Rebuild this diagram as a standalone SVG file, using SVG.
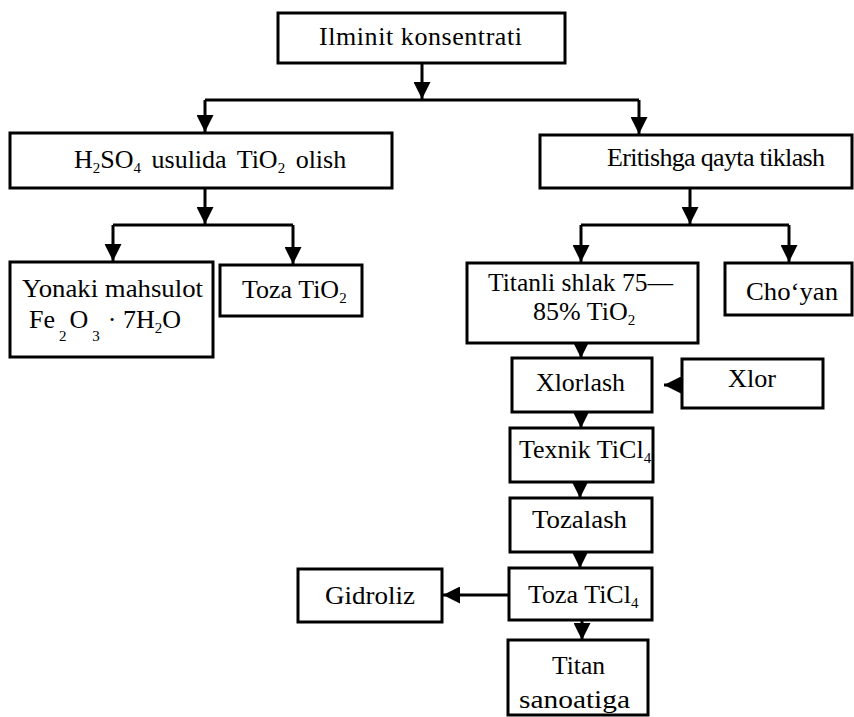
<svg xmlns="http://www.w3.org/2000/svg" width="854" height="717" viewBox="0 0 854 717">
<style>
rect.box{fill:#fff;stroke:#000;stroke-width:3}
text{font-family:"Liberation Serif","Times New Roman",serif;font-size:26px;fill:#000}
.sub{font-size:15px}
.con path{fill:none;stroke:#000;stroke-width:3}
</style>
<defs>
<marker id="ah" viewBox="0 0 16 16" refX="16" refY="8" markerWidth="17" markerHeight="17" markerUnits="userSpaceOnUse" orient="auto">
<path d="M0,0 L16,8 L0,16 z" fill="#000"/>
</marker>
</defs>
<rect width="854" height="717" fill="#fff"/>
<g class="con">
<path d="M422,63 V99" marker-end="url(#ah)"/>
<path d="M205,100 H639"/>
<path d="M205,100 V132" marker-end="url(#ah)"/>
<path d="M639,100 V134" marker-end="url(#ah)"/>
<path d="M205,188 V224" marker-end="url(#ah)"/>
<path d="M113,225 H293"/>
<path d="M113,225 V261" marker-end="url(#ah)"/>
<path d="M293,225 V264" marker-end="url(#ah)"/>
<path d="M690,188 V224" marker-end="url(#ah)"/>
<path d="M581,225 H789"/>
<path d="M581,225 V262" marker-end="url(#ah)"/>
<path d="M789,225 V262" marker-end="url(#ah)"/>
<path d="M581,343 V358" marker-end="url(#ah)"/>
<path d="M581,412 V428" marker-end="url(#ah)"/>
<path d="M580,482 V498" marker-end="url(#ah)"/>
<path d="M580,552 V568" marker-end="url(#ah)"/>
<path d="M582,620 V640" marker-end="url(#ah)"/>
<path d="M682,385 H664" marker-end="url(#ah)"/>
<path d="M509,595 H443" marker-end="url(#ah)"/>
</g>
<g id="ilminit">
<rect class="box" x="278" y="13" width="287" height="50"/>
<text x="319" y="45" textLength="203" lengthAdjust="spacing">Ilminit konsentrati</text>
</g>
<g id="h2so4">
<rect class="box" x="10" y="133" width="382" height="55"/>
<text x="74" y="168" word-spacing="4">H<tspan class="sub" dy="5">2</tspan><tspan dy="-5">SO</tspan><tspan class="sub" dy="5">4</tspan><tspan dy="-5"> usulida  TiO</tspan><tspan class="sub" dy="5">2</tspan><tspan dy="-5"> olish</tspan></text>
</g>
<g id="eritish">
<rect class="box" x="540" y="135" width="312" height="53"/>
<text x="607" y="166" textLength="218" lengthAdjust="spacing">Eritishga qayta tiklash</text>
</g>
<g id="yonaki">
<rect class="box" x="10" y="262" width="203" height="95"/>
<text x="22" y="297" textLength="181" lengthAdjust="spacingAndGlyphs">Yonaki mahsulot</text>
<text x="29" y="328">Fe<tspan class="sub" dx="4" dy="13">2</tspan><tspan dx="3" dy="-13">O</tspan><tspan class="sub" dx="4" dy="13">3</tspan><tspan dx="8" dy="-13">· 7H</tspan><tspan class="sub" dy="5">2</tspan><tspan dy="-5">O</tspan></text>
</g>
<g id="tozatio2">
<rect class="box" x="220" y="265" width="142" height="51"/>
<text x="242" y="298">Toza TiO<tspan class="sub" dy="5">2</tspan></text>
</g>
<g id="titanli">
<rect class="box" x="467" y="263" width="231" height="80"/>
<text x="488" y="291" textLength="185" lengthAdjust="spacingAndGlyphs">Titanli shlak 75—</text>
<text x="533" y="320">85% TiO<tspan class="sub" dy="5">2</tspan></text>
</g>
<g id="choyan">
<rect class="box" x="725" y="263" width="127" height="52"/>
<text x="746" y="300" textLength="92" lengthAdjust="spacingAndGlyphs">Cho‘yan</text>
</g>
<g id="xlorlash">
<rect class="box" x="512" y="358" width="140" height="54"/>
<text x="536" y="391" textLength="89" lengthAdjust="spacingAndGlyphs">Xlorlash</text>
</g>
<g id="xlor">
<rect class="box" x="682" y="359" width="141" height="49"/>
<text x="728" y="387" textLength="48" lengthAdjust="spacingAndGlyphs">Xlor</text>
</g>
<g id="texnik">
<rect class="box" x="510" y="428" width="143" height="54"/>
<text x="519" y="458">Texnik TiCl<tspan class="sub" dy="5">4</tspan></text>
</g>
<g id="tozalash">
<rect class="box" x="510" y="498" width="142" height="54"/>
<text x="532" y="528" textLength="95" lengthAdjust="spacingAndGlyphs">Tozalash</text>
</g>
<g id="tozaticl4">
<rect class="box" x="509" y="568" width="143" height="52"/>
<text x="528" y="603">Toza TiCl<tspan class="sub" dy="5">4</tspan></text>
</g>
<g id="gidroliz">
<rect class="box" x="298" y="569" width="144" height="53"/>
<text x="325" y="604" textLength="90" lengthAdjust="spacingAndGlyphs">Gidroliz</text>
</g>
<g id="titan">
<rect class="box" x="508" y="640" width="140" height="75"/>
<text x="552" y="674" textLength="53" lengthAdjust="spacingAndGlyphs">Titan</text>
<text x="519" y="708" textLength="111" lengthAdjust="spacingAndGlyphs">sanoatiga</text>
</g>
</svg>
